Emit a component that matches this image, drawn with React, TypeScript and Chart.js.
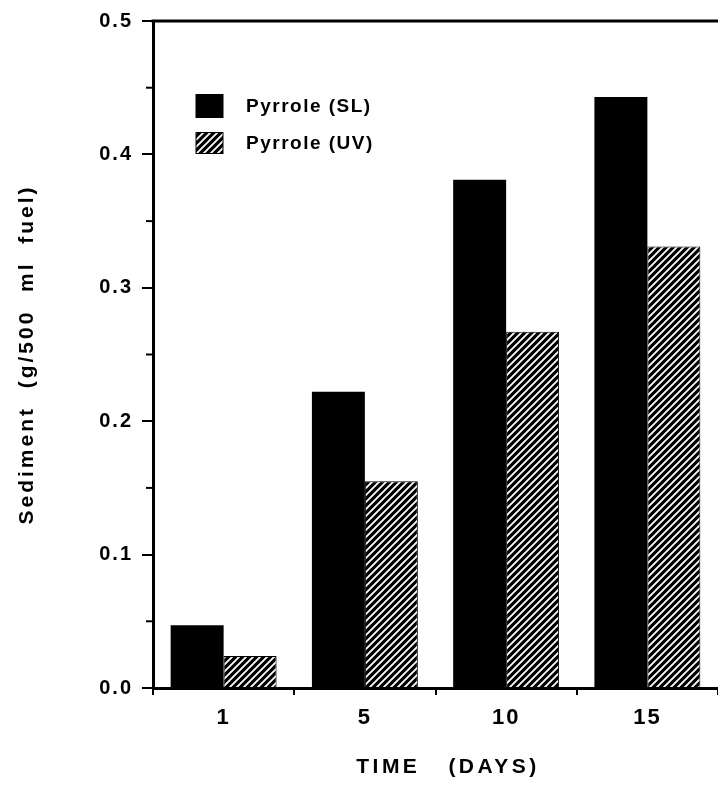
import React, { useEffect, useRef } from 'react';
import { Chart, registerables } from 'chart.js';

Chart.register(...registerables);

const categories = ['1', '5', '10', '15'];
const pyrroleSL = [0.047, 0.222, 0.381, 0.443];
const pyrroleUV = [0.024, 0.155, 0.267, 0.331];
const seriesLabels = ['Pyrrole (SL)', 'Pyrrole (UV)'];
const yMinorTicks = [0.05, 0.15, 0.25, 0.35, 0.45];
const yTitle = 'Sediment  (g/500  ml  fuel)';
const xTitle = 'TIME   (DAYS)';

function makeHatch(): CanvasPattern | string {
  const s = 7;
  const c = document.createElement('canvas');
  c.width = s;
  c.height = s;
  const g = c.getContext('2d');
  if (!g) return '#000';
  g.fillStyle = '#000';
  g.fillRect(0, 0, s, s);
  g.strokeStyle = '#fff';
  g.lineWidth = 1.8;
  g.beginPath();
  g.moveTo(-1, s + 1);
  g.lineTo(s + 1, -1);
  g.moveTo(-1, 1);
  g.lineTo(1, -1);
  g.moveTo(s - 1, s + 1);
  g.lineTo(s + 1, s - 1);
  g.stroke();
  const p = g.createPattern(c, 'repeat');
  return p || '#000';
}

const FONT = '"Liberation Sans", Arial, sans-serif';

export default function App() {
  const ref = useRef<HTMLCanvasElement | null>(null);

  useEffect(() => {
    document.body.style.margin = '0';
    const canvas = ref.current;
    if (!canvas) return;
    const hatch = makeHatch();

    const decor = {
      id: 'decor',
      beforeDraw(chart: any) {
        (chart.ctx as any).letterSpacing = '2px';
      },
      afterDraw(chart: any) {
        const ctx = chart.ctx as CanvasRenderingContext2D;
        const area = chart.chartArea;
        const y = chart.scales.y;
        ctx.save();
        // top frame line
        ctx.strokeStyle = '#000';
        ctx.lineWidth = 3;
        ctx.beginPath();
        ctx.moveTo(area.left - 1.5, area.top);
        ctx.lineTo(area.right, area.top);
        ctx.stroke();
        // minor y ticks
        ctx.lineWidth = 2;
        for (const v of yMinorTicks) {
          const py = y.getPixelForValue(v);
          ctx.beginPath();
          ctx.moveTo(area.left - 7, py);
          ctx.lineTo(area.left, py);
          ctx.stroke();
        }
        // legend
        const lx = 196;
        const rows = [106, 143];
        const fills: any[] = [chart.data.datasets[0].backgroundColor, chart.data.datasets[1].backgroundColor];
        ctx.font = `bold 19px ${FONT}`;
        (ctx as any).letterSpacing = '1.5px';
        ctx.textBaseline = 'middle';
        ctx.textAlign = 'left';
        for (let i = 0; i < 2; i++) {
          ctx.fillStyle = fills[i];
          const h = i === 0 ? 23 : 21;
          ctx.fillRect(lx, rows[i] - h / 2, 27, h);
          ctx.strokeStyle = '#000';
          ctx.lineWidth = 1;
          ctx.strokeRect(lx, rows[i] - h / 2, 27, h);
          ctx.fillStyle = '#000';
          ctx.fillText(seriesLabels[i], 246, rows[i] + 1);
        }
        // y title
        ctx.save();
        ctx.font = `bold 21px ${FONT}`;
        (ctx as any).letterSpacing = '3px';
        ctx.translate(27, (area.top + area.bottom) / 2);
        ctx.rotate(-Math.PI / 2);
        ctx.textAlign = 'center';
        ctx.textBaseline = 'middle';
        ctx.fillText(yTitle, 0, 0);
        ctx.restore();
        // x title
        ctx.font = `bold 21px ${FONT}`;
        (ctx as any).letterSpacing = '3.5px';
        ctx.textAlign = 'center';
        ctx.textBaseline = 'middle';
        ctx.fillText(xTitle, 448, 767);
        ctx.restore();
      },
    };

    const chart = new Chart(canvas, {
      type: 'bar',
      data: {
        labels: categories,
        datasets: [
          {
            label: seriesLabels[0],
            data: pyrroleSL,
            backgroundColor: '#000',
            borderWidth: 0,
            categoryPercentage: 0.75,
            barPercentage: 1,
          },
          {
            label: seriesLabels[1],
            data: pyrroleUV,
            backgroundColor: hatch as any,
            borderColor: '#000',
            borderWidth: 1,
            categoryPercentage: 0.75,
            barPercentage: 1,
          },
        ],
      },
      options: {
        responsive: false,
        animation: false,
        layout: { padding: { top: 21, right: 0, left: 0, bottom: 0 } },
        plugins: { legend: { display: false }, tooltip: { enabled: false } },
        scales: {
          x: {
            grid: { offset: true, drawOnChartArea: false, tickLength: 7, color: '#000', lineWidth: 2 },
            border: { color: '#000', width: 3 },
            ticks: { color: '#000', font: { family: FONT, size: 22, weight: 'bold' }, padding: 10, maxRotation: 0 },
            afterFit: (s: any) => {
              s.height = 98;
            },
          },
          y: {
            min: 0,
            max: 0.5,
            ticks: {
              stepSize: 0.1,
              color: '#000',
              font: { family: FONT, size: 20, weight: 'bold' },
              padding: 9,
              callback: (v: any) => Number(v).toFixed(1),
            },
            grid: { drawOnChartArea: false, tickLength: 11, color: '#000', lineWidth: 2 },
            border: { color: '#000', width: 3 },
            afterFit: (s: any) => {
              s.width = 153;
            },
          },
        },
      } as any,
      plugins: [decor],
    });
    return () => chart.destroy();
  }, []);

  return (
    <div style={{ width: 718, height: 786, position: 'relative', overflow: 'hidden', background: '#fff' }}>
      <canvas ref={ref} width={718} height={786} style={{ display: 'block' }} />
    </div>
  );
}
